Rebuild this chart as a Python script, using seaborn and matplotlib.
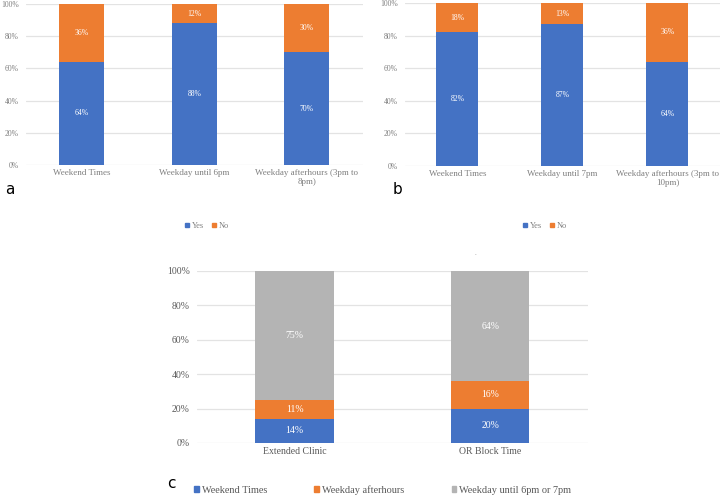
import matplotlib
matplotlib.use("Agg")
import matplotlib.pyplot as plt
import seaborn as sns
import pandas as pd
from matplotlib.patches import Patch
from matplotlib.ticker import FuncFormatter

sns.set_theme(style="white")
plt.rcParams['font.family'] = ['Liberation Serif', 'DejaVu Serif']

# Data
cats_a = ["Weekend Times", "Weekday until 6pm", "Weekday afterhours (3pm to\n8pm)"]
yes_a = [64, 88, 70]
no_a = [36, 12, 30]

cats_b = ["Weekend Times", "Weekday until 7pm", "Weekday afterhours (3pm to\n10pm)"]
yes_b = [82, 87, 64]
no_b = [18, 13, 36]

cats_c = ["Extended Clinic", "OR Block Time"]
weekend_c = [14, 20]
afterhours_c = [11, 16]
until_c = [75, 64]

BLUE = "#4472C4"
ORANGE = "#ED7D31"
GRAY = "#B4B4B4"
TXT = "#595959"
TXT_LIGHT = "#7F7F7F"
GRID = "#E3E3E3"

fig = plt.figure(figsize=(7.21, 4.96), dpi=100)


def stacked(ax, cats, layers, colors, width, tick_fs, cat_fs, lab_fs, tcol):
    # layers: bottom -> top
    cum = []
    tot = [0] * len(cats)
    for layer in layers:
        tot = [t + v for t, v in zip(tot, layer)]
        cum.append(list(tot))
    # draw from top to bottom so lower layers cover upper
    for i in range(len(layers) - 1, -1, -1):
        df = pd.DataFrame({"cat": cats, "val": cum[i]})
        sns.barplot(data=df, x="cat", y="val", color=colors[i], width=width,
                    ax=ax, saturation=1, zorder=3, edgecolor="none")
    # labels
    for i, layer in enumerate(layers):
        base = [c - v for c, v in zip(cum[i], layer)]
        for j, v in enumerate(layer):
            ax.text(j, base[j] + v / 2, f"{v}%", ha="center", va="center",
                    color="white", fontsize=lab_fs, zorder=5)
    ax.set_ylim(0, 100)
    ax.set_yticks(range(0, 101, 20))
    ax.yaxis.set_major_formatter(FuncFormatter(lambda v, p: f"{int(v)}%"))
    ax.grid(axis="y", color=GRID, linewidth=0.9, zorder=0)
    ax.set_axisbelow(True)
    for s in ax.spines.values():
        s.set_visible(False)
    ax.set_xlabel("")
    ax.set_ylabel("")
    ax.tick_params(axis="y", labelsize=tick_fs, colors=tcol, length=0, pad=5)
    ax.tick_params(axis="x", labelsize=cat_fs, colors=tcol, length=0, pad=3)


ax_a = fig.add_axes([0.0354, 0.6673, 0.468, 0.3246])
stacked(ax_a, cats_a, [yes_a, no_a], [BLUE, ORANGE], 0.4, 5.5, 6.5, 5.5, TXT_LIGHT)
ax_b = fig.add_axes([0.5617, 0.6653, 0.4369, 0.3286])
stacked(ax_b, cats_b, [yes_b, no_b], [BLUE, ORANGE], 0.4, 5.5, 6.5, 5.5, TXT_LIGHT)
ax_c = fig.add_axes([0.2729, 0.1069, 0.5427, 0.3468])
stacked(ax_c, cats_c, [weekend_c, afterhours_c, until_c], [BLUE, ORANGE, GRAY], 0.4, 7, 7, 7, TXT)

# legends
h_yn = [Patch(color=BLUE, label="Yes"), Patch(color=ORANGE, label="No")]
for x in (207 / 721, 545 / 721):
    fig.legend(handles=h_yn, loc="center", bbox_to_anchor=(x, 1 - 226 / 496), ncol=2,
               frameon=False, fontsize=6, handlelength=0.5, handleheight=0.5,
               handletextpad=0.3, columnspacing=1.0, labelcolor=TXT_LIGHT)

h_c = [Patch(color=BLUE, label="Weekend Times"), Patch(color=ORANGE, label="Weekday afterhours"),
       Patch(color=GRAY, label="Weekday until 6pm or 7pm")]
fig.legend(handles=h_c, loc="center left", bbox_to_anchor=(194 / 721, 1 - 490 / 496), ncol=3,
           frameon=False, fontsize=7.4, handlelength=0.45, handleheight=0.45,
           handletextpad=0.3, columnspacing=4.6, labelcolor=TXT, borderaxespad=0, borderpad=0)

# panel letters
for lab, x, y in (("a", 10, 189), ("b", 398, 189), ("c", 171, 484)):
    fig.text(x / 721, 1 - y / 496, lab, fontsize=11, family="DejaVu Sans",
             ha="center", va="center", color="black")
fig.text(475 / 721, 1 - 253 / 496, ".", fontsize=5, color=TXT_LIGHT, ha="center", va="center")

fig.savefig("out.png", dpi=100)
